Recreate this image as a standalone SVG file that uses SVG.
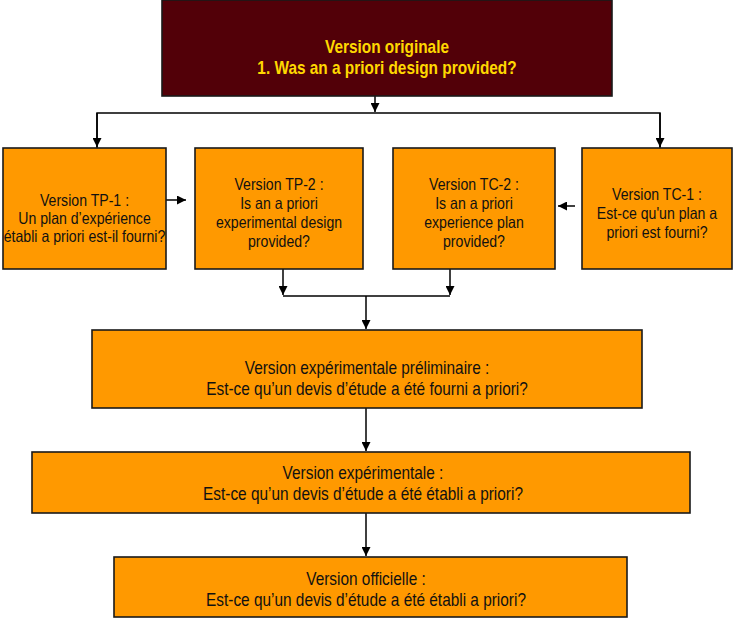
<svg xmlns="http://www.w3.org/2000/svg" width="736" height="619" viewBox="0 0 736 619">
<style>
.box{fill:#FF9900;stroke:#1a1a1a;stroke-width:1.6}
.top{fill:#520008;stroke:#1a1a1a;stroke-width:1.6}
.t{font-family:"Liberation Sans",Arial,sans-serif;font-size:16.5px;fill:#111;text-anchor:middle}
.tl{font-size:17.5px}
.ty{font-family:"Liberation Sans",Arial,sans-serif;font-size:17.5px;font-weight:bold;fill:#FFD800;text-anchor:middle}
.c{fill:none;stroke:#000;stroke-width:1.5}
</style>
<defs>
<marker id="ah" viewBox="0 0 10 10" refX="10" refY="5" markerWidth="6" markerHeight="6" markerUnits="strokeWidth" orient="auto">
<path d="M0,0 L10,5 L0,10 z" fill="#000"/>
</marker>
</defs>
<g id="connectors">
<line class="c" x1="375" y1="96" x2="375" y2="112" marker-end="url(#ah)"/>
<polyline class="c" points="97,148 97,113 660,113 660,148"/>
<line class="c" x1="97" y1="113" x2="97" y2="147" marker-end="url(#ah)"/>
<line class="c" x1="660" y1="113" x2="660" y2="147" marker-end="url(#ah)"/>
<line class="c" x1="166" y1="200" x2="186" y2="200" marker-end="url(#ah)"/>
<line class="c" x1="575" y1="206" x2="558" y2="206" marker-end="url(#ah)"/>
<line class="c" x1="283" y1="269" x2="283" y2="295" marker-end="url(#ah)"/>
<line class="c" x1="450" y1="269" x2="450" y2="295" marker-end="url(#ah)"/>
<line class="c" x1="283" y1="296" x2="450" y2="296"/>
<line class="c" x1="366" y1="296" x2="366" y2="329" marker-end="url(#ah)"/>
<line class="c" x1="366" y1="408" x2="366" y2="451" marker-end="url(#ah)"/>
<line class="c" x1="366" y1="513" x2="366" y2="556" marker-end="url(#ah)"/>
</g>
<g id="original">
<rect class="top" x="162" y="0" width="450" height="96"/>
<g transform="translate(387,0) scale(0.88,1)">
<text class="ty" x="0" y="53">Version originale</text>
<text class="ty" x="0" y="74">1. Was an a priori design provided?</text>
</g>
</g>
<g id="tp1">
<rect class="box" x="3" y="148" width="163" height="121"/>
<g transform="translate(84.5,0) scale(0.855,1)">
<text class="t" x="0" y="206">Version TP-1 :</text>
<text class="t" x="0" y="224">Un plan d’expérience</text>
<text class="t" x="0" y="242">établi a priori est-il fourni?</text>
</g>
</g>
<g id="tp2">
<rect class="box" x="195" y="148" width="168" height="121"/>
<g transform="translate(279,0) scale(0.855,1)">
<text class="t" x="0" y="190">Version TP-2 :</text>
<text class="t" x="0" y="209">Is an a priori</text>
<text class="t" x="0" y="228">experimental design</text>
<text class="t" x="0" y="247">provided?</text>
</g>
</g>
<g id="tc2">
<rect class="box" x="393" y="148" width="162" height="121"/>
<g transform="translate(474,0) scale(0.855,1)">
<text class="t" x="0" y="190">Version TC-2 :</text>
<text class="t" x="0" y="209">Is an a priori</text>
<text class="t" x="0" y="228">experience plan</text>
<text class="t" x="0" y="247">provided?</text>
</g>
</g>
<g id="tc1">
<rect class="box" x="582" y="148" width="150" height="121"/>
<g transform="translate(657,0) scale(0.855,1)">
<text class="t" x="0" y="200">Version TC-1 :</text>
<text class="t" x="0" y="219">Est-ce qu'un plan a</text>
<text class="t" x="0" y="238">priori est fourni?</text>
</g>
</g>
<g id="prelim">
<rect class="box" x="92" y="330" width="550" height="78"/>
<g transform="translate(367,0) scale(0.88,1)">
<text class="t tl" x="0" y="374">Version expérimentale préliminaire :</text>
<text class="t tl" x="0" y="395">Est-ce qu’un devis d’étude a été fourni a priori?</text>
</g>
</g>
<g id="experimentale">
<rect class="box" x="32" y="452" width="658" height="61"/>
<g transform="translate(363,0) scale(0.88,1)">
<text class="t tl" x="0" y="479">Version expérimentale :</text>
<text class="t tl" x="0" y="500">Est-ce qu’un devis d’étude a été établi a priori?</text>
</g>
</g>
<g id="officielle">
<rect class="box" x="114" y="557" width="513" height="60"/>
<g transform="translate(366,0) scale(0.88,1)">
<text class="t tl" x="0" y="585">Version officielle :</text>
<text class="t tl" x="0" y="606">Est-ce qu’un devis d’étude a été établi a priori?</text>
</g>
</g>
</svg>
